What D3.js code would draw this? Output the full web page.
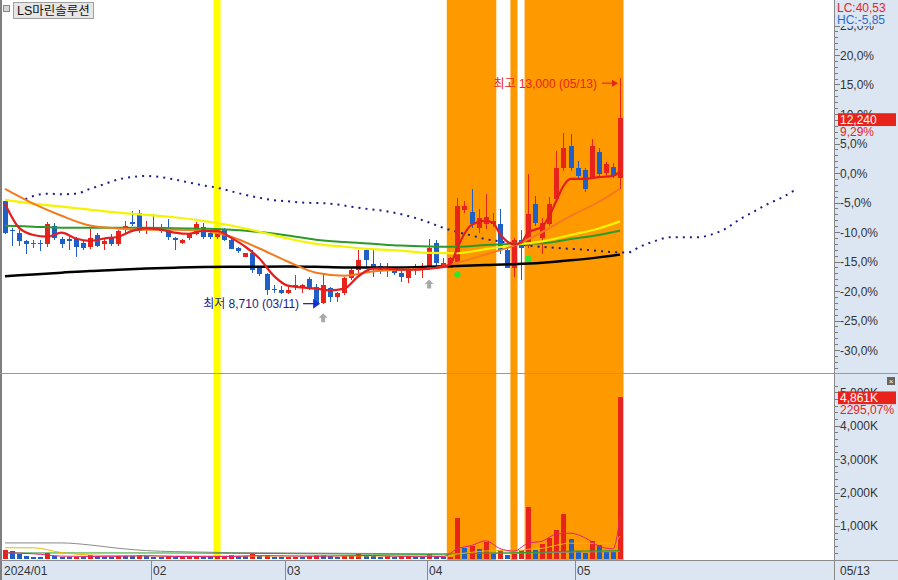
<!DOCTYPE html>
<html><head><meta charset="utf-8">
<script src="https://cdn.jsdelivr.net/npm/d3@7/dist/d3.min.js"></script>
<style>
html,body{margin:0;padding:0;background:#fff;}
svg{display:block;}
text{font-family:"Liberation Sans","Noto Sans CJK KR",sans-serif;}
</style></head>
<body>
<svg id="chart" width="898" height="580"></svg>
<script>
// ---------------- DATA ----------------
const title = "LS마린솔루션";
const dates = [
 "01/03","01/04","01/05","01/08","01/09","01/10","01/11","01/12","01/15","01/16","01/17","01/18","01/19","01/22","01/23","01/24","01/25","01/26","01/29","01/30","01/31",
 "02/01","02/02","02/05","02/06","02/07","02/08","02/13","02/14","02/15","02/16","02/19","02/20","02/21","02/22","02/23","02/26","02/27","02/28","02/29",
 "03/04","03/05","03/06","03/07","03/08","03/11","03/12","03/13","03/14","03/15","03/18","03/19","03/20","03/21","03/22","03/25","03/26","03/27","03/28","03/29",
 "04/01","04/02","04/03","04/04","04/05","04/08","04/09","04/11","04/12","04/15","04/16","04/17","04/18","04/19","04/22","04/23","04/24","04/25","04/26","04/29","04/30",
 "05/02","05/03","05/07","05/08","05/09","05/10","05/13"];
const openP = [10670,10120,10070,9900,9860,9880,9860,10200,9950,9950,
 9950,9880,9800,10030,9860,9970,9860,10160,10270,10450,
 10120,10160,10160,10140,9970,9880,9970,10050,10180,10070,
 9990,10120,9930,9780,9610,9690,9420,9290,8990,8970,
 8930,9030,9030,9180,9030,8740,9010,8840,8930,9200,
 9350,9730,9480,9440,9350,9410,9310,9200,9350,9370,
 9390,9880,9440,9390,9500,10500,10460,10160,10240,10240,
 10240,9730,9390,9930,9820,10610,9970,10240,10710,11290,
 11710,11290,11260,11110,11600,11200,11310,11110];
const highP = [10670,10160,10120,9920,9930,9920,10270,10260,9990,9990,
 9990,9920,10140,10070,9970,10050,10120,10290,10480,10500,
 10290,10430,10240,10330,9990,9950,10070,10270,10260,10100,
 10160,10160,9950,9800,9690,9730,9440,9310,9070,9050,
 9030,9270,9100,9220,9090,9290,9030,8950,9220,9410,
 9730,9750,9730,9500,9500,9420,9350,9410,9480,9500,
 9950,9920,9580,9610,10730,10670,10900,10520,10800,10450,
 10520,9860,9970,10120,11180,10770,10350,10750,11620,11960,
 11940,11430,11290,11840,11670,11410,11390,13000];
const lowP = [10050,9820,9820,9670,9780,9710,9800,9920,9780,9730,
 9600,9730,9760,9800,9730,9820,9820,10070,10200,10070,
 10050,10120,10070,9920,9730,9860,9920,10030,9950,9950,
 9950,9900,9750,9690,9600,9310,9240,8880,8920,8900,
 8900,8970,8920,8970,8720,8710,8760,8760,8880,9160,
 9310,9410,9220,9290,9220,9270,9140,9120,9260,9200,
 9350,9440,9390,9390,9480,10450,10160,10070,10140,10180,
 9670,9390,9220,9160,9780,10200,9670,10200,10670,11240,
 11240,11110,10840,11090,11140,11140,11110,10900];
const closeP = [10070,10090,9900,9860,9880,9860,10240,9970,9860,9900,
 9800,9780,9970,9820,9900,9860,10090,10200,10240,10100,
 10160,10140,10100,9990,9930,9930,10050,10240,9990,9990,
 10100,9920,9760,9710,9690,9350,9290,8970,8970,8930,
 8970,9070,9070,9010,8730,9070,8840,8930,9200,9350,
 9540,9540,9410,9350,9390,9310,9220,9350,9390,9410,
 9780,9500,9500,9580,10580,10580,10240,10350,10370,10290,
 9730,9390,9920,9780,10430,10260,10260,10610,11290,11670,
 11290,11140,10900,11710,11180,11370,11140,12240];
// volume in thousands of shares
const volumeK = [270,235,160,105,60,55,180,90,70,60,
 75,70,130,90,70,65,110,100,95,130,
 90,80,70,110,60,70,75,110,80,60,
 70,80,120,100,85,160,110,140,80,55,
 60,80,70,100,140,120,90,80,90,110,
 150,110,90,80,95,80,85,90,70,60,
 150,70,60,65,1240,330,390,300,510,150,
 270,140,160,270,1570,270,450,630,870,1360,
 600,240,180,540,420,215,211.802,4861];
const basePrice = 11200;               // 0,0% reference price of the right scale

const monthStarts = ["01/03","02/01","03/04","04/01","05/02"];
const monthLabels = ["2024/01","02","03","04","05"];
const lastDateLabel = "05/13";

const yellowBandDates = ["02/16"];
const orangeBandRanges = [["04/04","04/15"],["04/18","04/18"],["04/22","05/13"]];
const grayArrowDates = ["03/11","04/01"];
const greenDotDates = ["04/05","04/22"];

// moving averages (percent of base price), sampled at trading-day indices
const maIdx  = [0,4,8,12,16,20,24,28,32,36,40,44,48,52,56,60,64,68,72,76,80,84,87];
const ma20   = [-2.7,-5.2,-7.25,-8.9,-9.4,-9.6,-9.6,-9.8,-10.8,-12.8,-15.0,-16.9,-17.4,-16.7,-16.4,-16.2,-15.2,-13.8,-12.3,-10.0,-7.3,-4.9,-2.7];
const ma60   = [-4.55,-5.2,-5.7,-6.2,-6.7,-7.1,-7.5,-8.1,-8.9,-9.95,-11.1,-12.0,-12.5,-12.9,-13.15,-13.55,-13.6,-12.9,-12.2,-11.6,-10.5,-9.4,-8.2];
const ma120  = [-8.94,-9.1,-9.27,-9.27,-9.27,-9.3,-9.35,-9.44,-9.6,-10.0,-10.6,-11.3,-11.7,-12.0,-12.3,-12.45,-12.5,-12.2,-12.0,-11.9,-11.2,-10.5,-9.8];
const ma240  = [-17.5,-17.2,-16.9,-16.6,-16.4,-16.2,-16.05,-15.94,-15.9,-15.87,-15.85,-15.9,-16.0,-16.0,-16.0,-15.9,-15.75,-15.6,-15.45,-15.2,-14.8,-14.3,-13.83];
const ma5Idx = [0,2,4,6,8,10,12,14,16,18,20,22,24,26,28,30,32,34,36,38,40,42,44,46,48,50,52,54,56,58,60,62,63,64,65,66,68,69,70,72,73,74,76,77,78,79,80,82,84,86,87];
const ma5    = [-5.2,-9.3,-10.5,-10.8,-10.1,-11.1,-11.5,-11.1,-10.8,-9.8,-9.4,-9.6,-10.1,-10.3,-9.8,-9.8,-11.0,-12.5,-14.5,-17.4,-19.1,-19.4,-19.6,-19.9,-19.6,-17.5,-16.2,-16.2,-16.4,-16.4,-16.2,-15.9,-15.4,-12.7,-10.3,-8.8,-8.1,-8.4,-10.3,-12.1,-11.8,-10.1,-9.1,-7.3,-4.7,-2.2,-1.0,-1.0,-0.7,-0.5,0.3];
// leading (shifted) line, extends 25 trading days past the last candle
const leadIdx = [2,4,6,8,10,12,14,16,18,20,22,24,26,28,30,32,34,36,38,40,42,46,50,54,58,60,62,64,66,68,70,74,78,82,86,88,90,92,94,96,98,100,102,104,106,108,110,112];
const leadLine = [-5.0,-3.9,-3.5,-3.6,-3.5,-2.7,-1.9,-1.1,-0.67,-0.5,-0.7,-1.1,-1.6,-2.1,-2.5,-3.1,-3.7,-4.2,-4.6,-4.8,-5.0,-5.2,-5.9,-6.5,-7.6,-8.4,-9.3,-10.0,-10.6,-11.2,-11.6,-12.3,-12.7,-13.0,-13.4,-13.5,-12.4,-11.5,-10.9,-10.9,-10.9,-10.4,-9.4,-7.8,-6.5,-5.2,-4.1,-2.7];
// volume moving averages (K)
const volMaIdx = [0,4,8,12,16,20,24,28,32,36,40,44,48,52,56,60,62,64,66,68,70,72,74,76,78,80,82,84,86,87];
const volMa5   = [195,166,95,85,90,105,85,80,85,110,100,90,105,115,90,90,82,314,414,554,324,246,482,544,758,782,650,396,313,1250];
const volMa20  = [345,345,200,130,110,105,100,100,95,100,100,105,100,100,100,100,100,160,210,250,260,240,300,330,420,485,470,483,480,696];
const volMa60  = [190,190,190,190,190,190,188,185,180,175,170,165,160,155,150,150,150,165,175,185,190,195,205,215,230,245,250,255,255,270];
const volMa120 = [490,490,490,430,330,260,230,215,200,195,190,185,180,175,170,165,165,170,175,180,180,180,190,195,205,215,220,225,225,240];

const pctTicks = [-30,-25,-20,-15,-10,-5,0,5,10,15,20,25];
const volTicks = [1000,2000,3000,4000,5000];

// ---------------- DRAW ----------------
const svg = d3.select("#chart");
const N = dates.length;
const di = d => dates.indexOf(d);
const x = d3.scaleLinear().domain([0, N - 1]).range([5, 620]);
const step = x(1) - x(0);
const yP = d3.scaleLinear().domain([-30, 25]).range([350, 25.5]);
const pct = p => (p / basePrice - 1) * 100;
const yV = d3.scaleLinear().domain([0, 5000]).range([559.3, 392.3]);
const RED = "#e8231b", BLUE = "#1f5fc8", NAVY = "#1c1c8a";
const fmtPct = v => v.toFixed(1).replace(".", ",") + "%";
const fmt2 = v => v.toFixed(2).replace(".", ",");

// background bands
const gB = svg.append("g");
function band(i0, i1, color) {
  gB.append("rect").attr("x", x(i0) - step / 2).attr("width", x(i1) - x(i0) + step)
    .attr("y", 0).attr("height", 560).attr("fill", color);
}
yellowBandDates.forEach(d => band(di(d), di(d), "#ffff00"));
orangeBandRanges.forEach(r => band(di(r[0]), di(r[1]), "#ff9900"));

// leading dotted line
const lineP = d3.line().x(d => x(d[0])).y(d => yP(d[1])).curve(d3.curveMonotoneX);
svg.append("path").attr("d", lineP(d3.zip(leadIdx, leadLine)))
  .attr("fill", "none").attr("stroke", NAVY).attr("stroke-width", 2).attr("stroke-dasharray", "2 " + (step - 2).toFixed(2));

// candles
const gC = svg.append("g").attr("shape-rendering", "crispEdges");
dates.forEach((d, i) => {
  const o = openP[i], c = closeP[i], h = highP[i], l = lowP[i];
  const col = c >= o ? RED : BLUE;
  const cx = Math.round(x(i));
  gC.append("rect").attr("x", cx).attr("width", 1)
    .attr("y", yP(pct(h))).attr("height", Math.max(1, yP(pct(l)) - yP(pct(h)))).attr("fill", col);
  const top = yP(pct(Math.max(o, c))), bot = yP(pct(Math.min(o, c)));
  gC.append("rect").attr("x", cx - 2).attr("width", 5)
    .attr("y", top).attr("height", Math.max(1, bot - top)).attr("fill", col);
});

// moving averages
const maLines = [[maIdx, ma240, "#000000", 2.5], [maIdx, ma120, "#2a9a2a", 2], [maIdx, ma60, "#f4f400", 2.2],
                 [maIdx, ma20, "#f47a1e", 2], [ma5Idx, ma5, "#e41e1e", 2.2]];
maLines.forEach(([ix, vals, col, w]) => {
  svg.append("path").attr("d", lineP(d3.zip(ix, vals))).attr("fill", "none")
    .attr("stroke", col).attr("stroke-width", w).attr("stroke-linejoin", "round");
});

// signal markers
grayArrowDates.forEach(d => {
  const i = di(d), cx = x(i), t = yP(pct(lowP[i])) + 9;
  svg.append("path").attr("d", `M${cx - 4.5},${t + 4.5}L${cx},${t}L${cx + 4.5},${t + 4.5}L${cx + 2},${t + 4.5}L${cx + 2},${t + 9}L${cx - 2},${t + 9}L${cx - 2},${t + 4.5}Z`)
    .attr("fill", "#a8a8a8");
});
greenDotDates.forEach(d => {
  const i = di(d);
  svg.append("circle").attr("cx", x(i)).attr("cy", yP(pct(lowP[i])) + 11).attr("r", 3.2).attr("fill", "#2ee82e");
});

// high / low annotations
const hiI = d3.maxIndex(highP), loI = d3.minIndex(lowP);
const hy = yP(pct(highP[hiI])) + 5;
svg.append("text").attr("x", x(hiI) - 23).attr("y", hy + 4.5).attr("text-anchor", "end")
  .attr("font-size", 12).attr("fill", RED).text(`최고 ${d3.format(",")(highP[hiI])} (${dates[hiI]})`);
svg.append("line").attr("x1", x(hiI) - 18).attr("x2", x(hiI) - 6).attr("y1", hy).attr("y2", hy).attr("stroke", RED).attr("stroke-width", 1.2);
svg.append("path").attr("d", `M${x(hiI) - 8},${hy - 3.5}L${x(hiI) - 2},${hy}L${x(hiI) - 8},${hy + 3.5}Z`).attr("fill", RED);
const ly = yP(pct(lowP[loI])) - 0.5;
svg.append("text").attr("x", x(loI) - 24).attr("y", ly + 4.5).attr("text-anchor", "end")
  .attr("font-size", 12).attr("fill", NAVY).text(`최저 ${d3.format(",")(lowP[loI])} (${dates[loI]})`);
svg.append("line").attr("x1", x(loI) - 20).attr("x2", x(loI) - 9).attr("y1", ly).attr("y2", ly).attr("stroke", NAVY).attr("stroke-width", 1.2);
svg.append("path").attr("d", `M${x(loI) - 10},${ly - 5}L${x(loI) - 3},${ly}L${x(loI) - 10},${ly + 5}Z`).attr("fill", "#1030d0");

// volume bars
const gV = svg.append("g").attr("shape-rendering", "crispEdges");
volumeK.forEach((v, i) => {
  const col = (i === 0 || v >= volumeK[i - 1]) ? RED : BLUE;
  const cx = Math.round(x(i));
  gV.append("rect").attr("x", cx - 2).attr("width", 5).attr("y", yV(v)).attr("height", yV(0) - yV(v)).attr("fill", col);
});
const lineV = d3.line().x(d => x(d[0])).y(d => yV(d[1])).curve(d3.curveMonotoneX);
[[volMa120, "#8a8a8a"], [volMa60, "#2a9a2a"], [volMa20, "#e8b800"], [volMa5, "#e0207a"]].forEach(([vals, col]) => {
  svg.append("path").attr("d", lineV(d3.zip(volMaIdx, vals))).attr("fill", "none").attr("stroke", col).attr("stroke-width", 1);
});

// frames
svg.append("rect").attr("x", 0).attr("y", 0).attr("width", 2).attr("height", 580).attr("fill", "#7f7f7f");
svg.append("line").attr("x1", 0).attr("x2", 898).attr("y1", 373.5).attr("y2", 373.5).attr("stroke", "#9a9a9a");

// right axis panel
const ax = svg.append("g");
ax.append("rect").attr("x", 834.5).attr("y", 0).attr("width", 64).attr("height", 580).attr("fill", "#dce6f2");
ax.append("line").attr("x1", 834.5).attr("x2", 834.5).attr("y1", 0).attr("y2", 580).attr("stroke", "#8a8a8a");
ax.append("line").attr("x1", 834.5).attr("x2", 898).attr("y1", 373.5).attr("y2", 373.5).attr("stroke", "#9a9a9a");
// price minor ticks
d3.range(-33, 28).forEach(v => {
  const y = Math.round(yP(v)) + 0.5;
  ax.append("line").attr("x1", 835).attr("x2", v % 5 === 0 ? 840 : 838).attr("y1", y).attr("y2", y).attr("stroke", "#7a7a7a");
});
pctTicks.forEach(v => {
  ax.append("text").attr("x", 840).attr("y", yP(v) + 4.5).attr("font-size", 12).attr("fill", "#333").text(fmtPct(v));
});
// volume ticks
d3.range(200, 5400, 200).forEach(v => {
  const y = Math.round(yV(v)) + 0.5;
  ax.append("line").attr("x1", 835).attr("x2", v % 1000 === 0 ? 840 : 838).attr("y1", y).attr("y2", y).attr("stroke", "#7a7a7a");
});
volTicks.forEach(v => {
  ax.append("text").attr("x", 840).attr("y", yV(v) + 4.5).attr("font-size", 12).attr("fill", "#333").text(d3.format(",")(v) + "K");
});
// LC / HC
const lastC = closeP[N - 1];
ax.append("rect").attr("x", 835).attr("y", 0).attr("width", 63).attr("height", 26).attr("fill", "#dce6f2");
ax.append("text").attr("x", 837).attr("y", 12).attr("font-size", 12).attr("fill", RED)
  .text("LC:" + fmt2((lastC / d3.min(lowP) - 1) * 100));
ax.append("text").attr("x", 837).attr("y", 23.5).attr("font-size", 12).attr("fill", "#1f6fd0")
  .text("HC:" + fmt2((lastC / d3.max(highP) - 1) * 100));
// last price box
const lyC = yP(pct(lastC));
ax.append("rect").attr("x", 838).attr("y", lyC - 5).attr("width", 58).attr("height", 13).attr("fill", RED);
ax.append("text").attr("x", 840).attr("y", lyC + 6).attr("font-size", 12).attr("fill", "#fff").text(d3.format(",")(lastC));
ax.append("rect").attr("x", 838).attr("y", lyC + 8).attr("width", 58).attr("height", 11).attr("fill", "#dce6f2");
ax.append("text").attr("x", 840).attr("y", lyC + 17.5).attr("font-size", 12).attr("fill", RED).text(fmt2(pct(lastC)) + "%");
// last volume box
const lastV = volumeK[N - 1], vyC = yV(lastV);
ax.append("rect").attr("x", 838).attr("y", vyC - 5.5).attr("width", 58).attr("height", 13).attr("fill", RED);
ax.append("text").attr("x", 840).attr("y", vyC + 5.5).attr("font-size", 12).attr("fill", "#fff").text(d3.format(",")(lastV) + "K");
ax.append("rect").attr("x", 838).attr("y", vyC + 7.5).attr("width", 58).attr("height", 11).attr("fill", "#dce6f2");
ax.append("text").attr("x", 840).attr("y", vyC + 17).attr("font-size", 12).attr("fill", RED).text(fmt2(lastV / volumeK[N - 2] * 100) + "%");
// close button
ax.append("rect").attr("x", 887).attr("y", 377).attr("width", 8).attr("height", 8).attr("fill", "#666");
ax.append("text").attr("x", 891).attr("y", 384).attr("text-anchor", "middle").attr("font-size", 8).attr("fill", "#fff").text("×");

// bottom date axis
const bx = svg.append("g");
bx.append("rect").attr("x", 2).attr("y", 561).attr("width", 896).attr("height", 19).attr("fill", "#dce6f2");
bx.append("line").attr("x1", 0).attr("x2", 898).attr("y1", 560.5).attr("y2", 560.5).attr("stroke", "#8a8a8a");
monthStarts.forEach((d, k) => {
  const sx = k === 0 ? 2.5 : Math.round(x(di(d)) - 2.5) + 0.5;
  if (k > 0) bx.append("line").attr("x1", sx).attr("x2", sx).attr("y1", 561).attr("y2", 580).attr("stroke", "#8a8a8a");
  bx.append("text").attr("x", sx + 1.5).attr("y", 575).attr("font-size", 12).attr("fill", "#333").text(monthLabels[k]);
});
bx.append("line").attr("x1", 834.5).attr("x2", 834.5).attr("y1", 561).attr("y2", 580).attr("stroke", "#8a8a8a");
bx.append("text").attr("x", 840).attr("y", 575).attr("font-size", 12).attr("fill", "#333").text(lastDateLabel);

// title
svg.append("rect").attr("x", 3.5).attr("y", 5.5).attr("width", 6).attr("height", 6).attr("fill", "#d6d6d6").attr("stroke", "#8a8a8a");
svg.append("rect").attr("x", 13.5).attr("y", 2.5).attr("width", 80).attr("height", 16).attr("fill", "#e6e6e6").attr("stroke", "#a0a0a0");
svg.append("text").attr("x", 17).attr("y", 15).attr("font-size", 12.5).attr("fill", "#111").text(title);
</script>
</body></html>
